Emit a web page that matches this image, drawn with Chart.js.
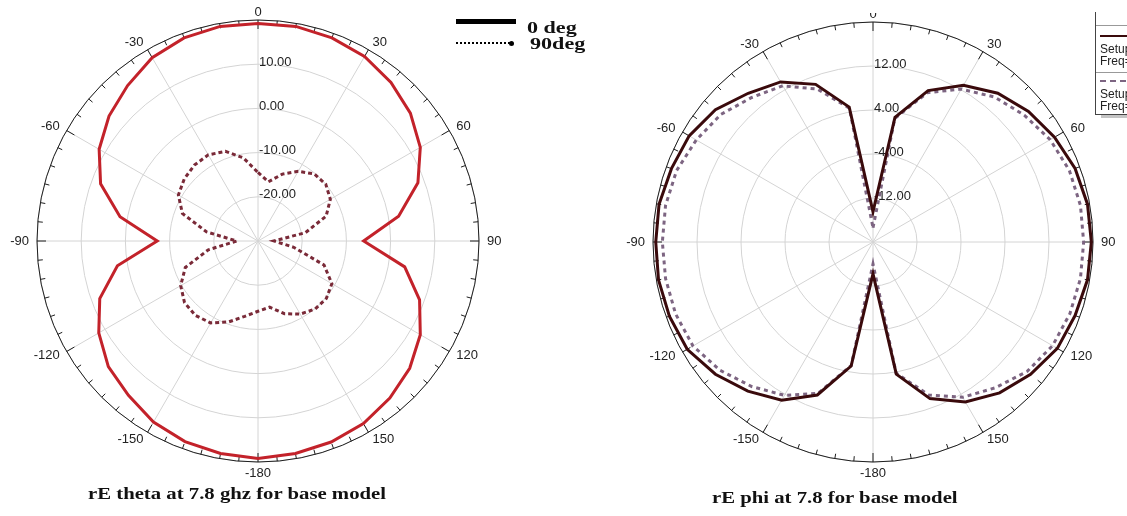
<!DOCTYPE html>
<html>
<head>
<meta charset="utf-8">
<script src="https://cdn.jsdelivr.net/npm/chart.js@4.4.1/dist/chart.umd.min.js"></script>
<style>
  html, body { margin: 0; padding: 0; background: #fff; }
  body { position: relative; width: 1127px; height: 516px; overflow: hidden; }
  canvas { position: absolute; }
  #leftChart { left: 0; top: 0; }
  #rightChart { left: 560px; top: 13px; }
  .serif { position: absolute; font-family: "Liberation Serif", "Times New Roman", serif; font-weight: bold; color: #111; white-space: nowrap; transform-origin: 0 50%; }
  .title { font-size: 17px; transform: scaleX(1.22); }
  .legtxt { font-size: 17px; transform: scaleX(1.3); }
  #hfss { position: absolute; left: 1095px; top: 12px; width: 140px; height: 102px; background: #fff;
          border-left: 1px solid #444; border-bottom: 1px solid #444; box-shadow: 6px 3px 0 #c4c4c4;
          font-family: "Liberation Sans", Arial, sans-serif; font-size: 12px; color: #222; }
  #hfss .sep { position: absolute; left: 0; right: 0; height: 1px; background: #999; }
  #hfss .t { position: absolute; left: 4px; line-height: 12px; white-space: nowrap; }
</style>
</head>
<body>
<canvas id="leftChart" width="560" height="516"></canvas>
<canvas id="rightChart" width="567" height="503"></canvas>

<!-- left legend -->
<div style="position:absolute; left:456px; top:19px; width:60px; height:5px; background:#000;"></div>
<div class="serif legtxt" style="left:527px; top:18px;">0 deg</div>
<div style="position:absolute; left:456px; top:42px; width:54px; border-top:2.5px dotted #000;"></div>
<div style="position:absolute; left:509px; top:41px; width:5px; height:5px; border-radius:50%; background:#000;"></div>
<div class="serif legtxt" style="left:530px; top:34px;">90deg</div>

<!-- right legend (clipped by page edge) -->
<div id="hfss">
  <div class="sep" style="top:13px;"></div>
  <div style="position:absolute; left:4px; right:0; top:23px; height:2px; background:#3a0a0c;"></div>
  <div class="t" style="top:31px;">Setup1 : LastAdaptive</div>
  <div class="t" style="top:43px;">Freq='7.8GHz' Phi='0deg'</div>
  <div class="sep" style="top:60px;"></div>
  <div style="position:absolute; left:4px; right:0; top:68px; border-top:2px dashed #7d6582;"></div>
  <div class="t" style="top:76px;">Setup1 : LastAdaptive</div>
  <div class="t" style="top:88px;">Freq='7.8GHz' Phi='90deg'</div>
</div>

<div class="serif title" style="left:88px; top:484px;">rE theta at 7.8 ghz for base model</div>
<div class="serif title" style="left:712px; top:488px;">rE phi at 7.8 for base model</div>

<script>
// angle of each sample, clockwise from top (deg)
const angles = [0, 10, 20, 30, 40, 50, 60, 70, 80, 90, 100, 110, 120, 130, 140, 150, 160, 170,
                180, -170, -160, -150, -140, -130, -120, -110, -100, -90, -80, -70, -60, -50, -40, -30, -20, -10];

// rE theta (dB), 0 deg and 90 deg cuts
const thetaCo = [19.2, 19.3, 18.9, 18.2, 16.8, 15.0, 12.4, 8.5, 2.3, -6.1, 3.7, 8.9, 12.4, 14.8, 16.4, 17.7, 18.4, 18.8,
                 19.2, 18.8, 18.3, 17.3, 15.6, 14.2, 11.6, 8.1, 2.3, -7.2, 1.7, 7.9, 11.5, 14.0, 15.9, 17.9, 18.9, 19.3];
const thetaCross = [-14.5, -16.4, -13.9, -11.8, -10.2, -10.0, -11.1, -13.6, -19.1, -26.4, -21.8, -14.1, -10.7, -9.8, -9.9, -10.9, -12.5, -14.8,
                    -14.1, -12.7, -10.5, -8.6, -8.0, -8.3, -9.8, -12.5, -18.6, -25.2, -18.2, -11.8, -9.2, -8.2, -7.6, -7.5, -8.4, -10.9];

// rE phi (dB)
const phiCo = [-14.5, 3.0, 9.3, 12.9, 15.3, 16.9, 18.1, 19.1, 19.6, 19.7, 19.6, 19.1, 18.7, 17.4, 15.8, 13.6, 10.3, 4.4,
               -14.2, 2.9, 9.6, 13.2, 15.4, 17.4, 19.0, 19.4, 19.6, 19.5, 19.5, 19.0, 18.6, 17.4, 15.3, 13.6, 10.5, 4.9];
const phiCross = [-17.4, 2.8, 8.9, 12.1, 14.4, 15.9, 17.2, 18.0, 18.3, 18.3, 18.3, 18.1, 17.7, 16.6, 14.6, 12.6, 9.6, 4.2,
                  -16.0, 2.8, 9.3, 12.2, 14.3, 16.3, 17.8, 18.2, 18.3, 18.3, 18.3, 18.0, 17.1, 16.1, 14.3, 12.8, 9.6, 4.7];

const angleTicks = [0, 30, 60, 90, 120, 150, -180, -150, -120, -90, -60, -30];
const thetaRings = [-20, -10, 0, 10];
const phiRings = [-12, -4, 4, 12];

// outer ring, tick marks and labels (drawn under the curves)
const polarFrame = {
    id: 'polarFrame',
    beforeDatasetsDraw(chart, args, opts) {
        const s = chart.scales.r;
        const ctx = chart.ctx;
        const R = s.drawingArea, cx = s.xCenter, cy = s.yCenter;
        ctx.save();
        ctx.strokeStyle = '#1e1e1e';
        ctx.lineWidth = 1;
        ctx.beginPath();
        ctx.arc(cx, cy, R, 0, Math.PI * 2);
        ctx.stroke();
        for (let a = 0; a < 360; a += 5) {
            const len = a % 30 === 0 ? 9 : 5;
            const t = a * Math.PI / 180;
            ctx.beginPath();
            ctx.moveTo(cx + Math.sin(t) * R, cy - Math.cos(t) * R);
            ctx.lineTo(cx + Math.sin(t) * (R - len), cy - Math.cos(t) * (R - len));
            ctx.stroke();
        }

        ctx.font = '13px "Liberation Sans", Arial, sans-serif';
        ctx.fillStyle = '#222';
        angleTicks.forEach(a => {
            const t = a * Math.PI / 180;
            const sn = Math.sin(t), cs = Math.cos(t);
            const vertical = Math.abs(sn) < 0.1;
            const d = R + (vertical ? 4.5 : 8);
            ctx.textAlign = sn > 0.1 ? 'left' : (sn < -0.1 ? 'right' : 'center');
            ctx.textBaseline = cs > 0.9 ? 'alphabetic' : (cs < -0.9 ? 'top' : 'middle');
            ctx.fillText(String(a), cx + sn * d, cy - cs * d);
        });

        ctx.textAlign = 'left';
        ctx.textBaseline = 'alphabetic';
        opts.rings.forEach(v => {
            const y = cy - s.getDistanceFromCenterForValue(v);
            ctx.fillText(v.toFixed(2), cx + 1, y + 1.5);
        });
        ctx.restore();
    }
};

function polarOptions(min, max, step, rings, pad) {
    return {
        responsive: false,
        animation: false,
        layout: { padding: pad },
        plugins: {
            legend: { display: false },
            tooltip: { enabled: false },
            polarFrame: { rings }
        },
        elements: {
            point: { radius: 0, hoverRadius: 0 },
            line: { tension: 0, fill: false }
        },
        scales: {
            r: {
                min: min,
                max: max,
                ticks: { stepSize: step, display: false },
                grid: { circular: true, color: '#d4d4d4', lineWidth: 1 },
                angleLines: {
                    color: '#d4d4d4',
                    lineWidth: (ctx) => (ctx.index % 3 === 0 ? 1 : 0)
                },
                pointLabels: { display: false }
            }
        }
    };
}

new Chart(document.getElementById('leftChart'), {
    type: 'radar',
    data: {
        labels: angles,
        datasets: [
            { label: '0 deg', data: thetaCo, borderColor: '#c3222a', borderWidth: 3, backgroundColor: 'transparent' },
            { label: '90deg', data: thetaCross, borderColor: '#7a2a38', borderWidth: 3, borderDash: [4, 3], backgroundColor: 'transparent' }
        ]
    },
    options: polarOptions(-30, 20, 10, thetaRings, { left: 37, top: 20, right: 81, bottom: 54 }),
    plugins: [polarFrame]
});

new Chart(document.getElementById('rightChart'), {
    type: 'radar',
    data: {
        labels: angles,
        datasets: [
            { label: 'Phi=0deg', data: phiCo, borderColor: '#3a0a0c', borderWidth: 3, backgroundColor: 'transparent' },
            { label: 'Phi=90deg', data: phiCross, borderColor: '#7d6582', borderWidth: 3, borderDash: [4, 4], backgroundColor: 'transparent' }
        ]
    },
    options: polarOptions(-20, 20, 8, phiRings, { left: 93, top: 9, right: 34, bottom: 54 }),
    plugins: [polarFrame]
});
</script>
</body>
</html>
